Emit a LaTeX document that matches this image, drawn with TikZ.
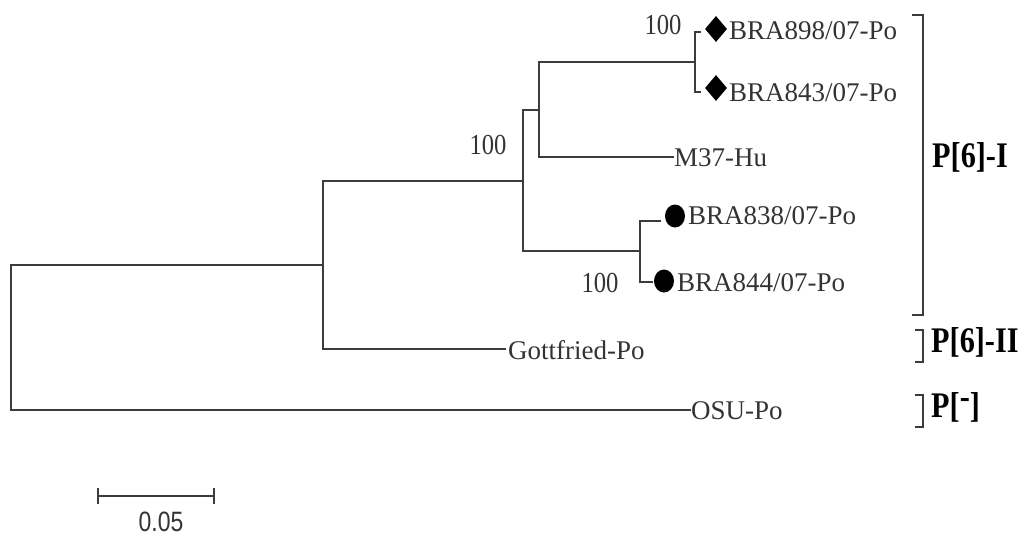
\documentclass[tikz,border=0pt]{standalone}
\usepackage{fontspec}
\setmainfont{Liberation Serif}
\newfontfamily\barfont{Liberation Sans}
\usetikzlibrary{shapes.geometric}
\definecolor{ink}{HTML}{3C3C3C}
\definecolor{txt}{HTML}{333333}
\newcommand{\narrow}[2]{\scalebox{#1}[1]{#2}}
\tikzset{
  branch/.style={draw=ink, line width=2.8pt, line cap=rect},
  taxon/.style={anchor=west, inner sep=1pt, text=txt, font=\fontsize{27}{29}\selectfont},
  boot/.style={inner sep=0pt, text=txt, font=\fontsize{29}{31}\selectfont},
  cladelab/.style={anchor=west, inner sep=0pt, text=black, font=\fontsize{36}{38}\selectfont\bfseries},
  brace/.style={draw=ink, line width=2.8pt},
  diam/.style={diamond, fill=black, inner sep=0pt, minimum width=22pt, minimum height=26pt},
  dot/.style={ellipse, fill=black, inner sep=0pt, minimum width=20pt, minimum height=23pt},
}
\begin{document}
\begin{tikzpicture}[x=1pt, y=-1pt]
\useasboundingbox (0,0) rectangle (1022,535);

% internal nodes of the tree
\coordinate (n695) at (695,62);
\coordinate (n539) at (539,110);
\coordinate (n640) at (640,251);
\coordinate (n523) at (523,181);
\coordinate (n323) at (323,265);
\coordinate (root) at (11,337);

% branch tips
\coordinate (t898) at (700,32);
\coordinate (t843) at (700,92);
\coordinate (tM37) at (673,157);
\coordinate (t838) at (660,221);
\coordinate (t844) at (652,282);
\coordinate (tG)   at (505,349);
\coordinate (tO)   at (690,410);

% branches
\draw[branch] (root) |- (n323);
\draw[branch] (root) |- (tO);
\draw[branch] (n323) |- (n523);
\draw[branch] (n323) |- (tG);
\draw[branch] (n523) |- (n539);
\draw[branch] (n523) |- (n640);
\draw[branch] (n539) |- (n695);
\draw[branch] (n539) |- (tM37);
\draw[branch] (n695) |- (t898);
\draw[branch] (n695) |- (t843);
\draw[branch] (n640) |- (t838);
\draw[branch] (n640) |- (t844);

% markers
\node[diam] (d898) at (716,29) {};
\node[diam] (d843) at (716,88) {};
\node[dot]  (c838) at (675,216) {};
\node[dot]  (c844) at (664,281) {};

% taxa
\node[taxon] (l898) at (728,31) {BRA898/07-Po};
\node[taxon] (l843) at (728,93) {BRA843/07-Po};
\node[taxon] (lM37) at (673,158) {M37-Hu};
\node[taxon] (l838) at (687,216) {BRA838/07-Po};
\node[taxon] (l844) at (676,283) {BRA844/07-Po};
\node[taxon] (lG)   at (507,350) {Gottfried-Po};
\node[taxon] (lO)   at (690,411) {OSU-Po};

% bootstrap values
\node[boot] (b1) at (663,25) {\narrow{0.85}{100}};
\node[boot] (b2) at (488,145) {\narrow{0.85}{100}};
\node[boot] (b3) at (600,283) {\narrow{0.85}{100}};

% clade brackets and labels
\draw[brace] (912,15) -- (923,15) -- (923,315) -- (912,315);
\draw[brace] (915,330) -- (923,330) -- (923,362) -- (915,362);
\draw[brace] (915,395) -- (923,395) -- (923,427) -- (915,427);
\node[cladelab] (c1) at (932,157) {\narrow{0.84}{P[6]-I}};
\node[cladelab] (c2) at (931,342) {\narrow{0.84}{P[6]-II}};
\node[cladelab] (c3) at (931,407) {\narrow{0.84}{P[\raisebox{0.5ex}{-}]}};

% scale bar
\coordinate (s0) at (98,496);
\coordinate (s1) at (214,496);
\draw[ink, line width=2.2pt] (s0) -- (s1);
\draw[ink, line width=2.6pt] ([yshift=-8pt]s0) -- ([yshift=8pt]s0);
\draw[ink, line width=2.6pt] ([yshift=-8pt]s1) -- ([yshift=8pt]s1);
\node[text=txt, font=\barfont\fontsize{28}{28}\selectfont, inner sep=0pt, anchor=base] (sl) at (161,531) {\narrow{0.82}{0.05}};
\end{tikzpicture}
\end{document}
